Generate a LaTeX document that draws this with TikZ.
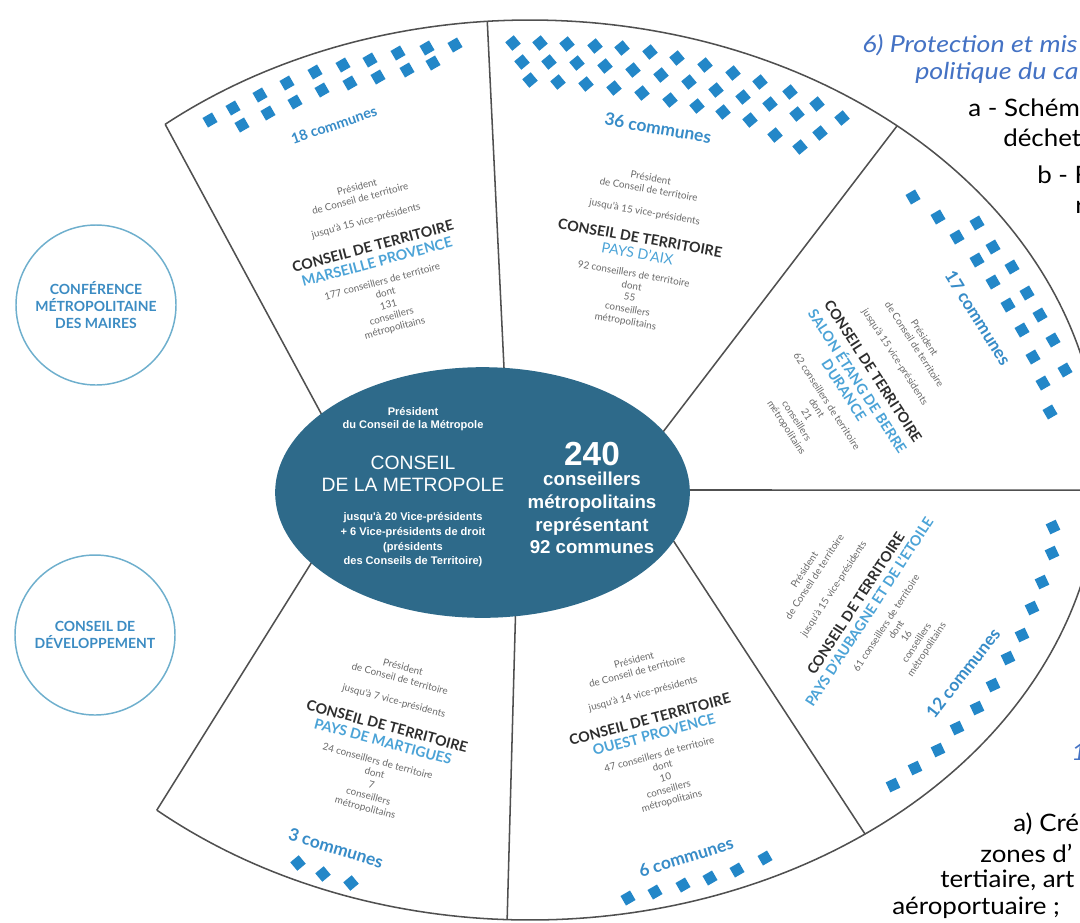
\documentclass[tikz,border=0pt]{standalone}
\usepackage{fontspec}
\setmainfont{Lato}
\newfontfamily\arialf{Liberation Sans}
\newfontfamily\ovblackf[FakeStretch=1.08]{Lato}
\newfontfamily\ovbluef[FakeStretch=1.15]{Lato}
\usetikzlibrary{shapes.geometric}
\definecolor{ellc}{RGB}{46,106,138}
\definecolor{dotc}{RGB}{35,135,200}
\definecolor{namec}{RGB}{75,163,215}
\definecolor{commc}{RGB}{55,140,200}
\definecolor{grayt}{RGB}{105,105,105}
\definecolor{darkt}{RGB}{45,45,45}
\definecolor{linec}{RGB}{80,80,80}
\definecolor{circc}{RGB}{110,175,205}
\definecolor{circt}{RGB}{60,140,195}
\definecolor{overb}{RGB}{68,114,196}
\newcommand\cdtline{{\color{darkt}\bfseries\fontsize{10.7}{12}\selectfont CONSEIL DE TERRITOIRE}}
\newcommand\nmline[1]{{\color{namec}\bfseries\fontsize{10.7}{12}\selectfont #1}}
\newcommand\nmlight[1]{{\color{namec}\fontsize{10.7}{12}\selectfont #1}}
\newcommand\terrtext[4]{Président\\de Conseil de territoire\\[8pt]jusqu'à #1 vice-présidents\\[11pt]\cdtline\\[3pt]#2\\[5pt]#3 conseillers de territoire\\dont\\#4\\conseillers\\métropolitains}
\begin{document}
\begin{tikzpicture}[x=0.75pt,y=-0.75pt,
  sectorline/.style={draw=linec, line width=1.15pt},
  block/.style={align=center, inner sep=0pt, text=grayt, font=\fontsize{7.4}{9}\selectfont},
  comm/.style={text=commc, inner sep=0pt, font=\bfseries\fontsize{13}{15}\selectfont},
  dotsq/.style={fill=dotc},
  bubble/.style={circle, draw=circc, line width=1.1pt, minimum size=120pt, inner sep=0pt, align=center, text=circt, font=\bfseries\fontsize{10.5}{12.5}\selectfont},
  ovblack/.style={anchor=west, inner sep=0pt, text=black, font=\ovblackf\fontsize{18}{22}\selectfont},
  ovblue/.style={anchor=west, inner sep=0pt, text=overb, font=\ovbluef\itshape\fontsize{17.5}{20}\selectfont},
  elltxt/.style={text=white, align=center, inner sep=0pt}
]
\useasboundingbox (0,0) rectangle (1080,922);
\fill[white] (0,0) rectangle (1080,922);

% outer arc points
\coordinate (o1) at ({530+570*cos(-129.8)},{470+450*sin(-129.8)});
\coordinate (o2) at ({530+570*cos(-94.3)},{470+450*sin(-94.3)});
\coordinate (o3) at ({530+570*cos(-49.9)},{470+450*sin(-49.9)});
\coordinate (o4) at ({530+570*cos(2.55)},{470+450*sin(2.55)});
\coordinate (o5) at ({530+570*cos(54)},{470+450*sin(54)});
\coordinate (o6) at ({530+570*cos(92.3)},{470+450*sin(92.3)});
\coordinate (o7) at ({530+570*cos(130.9)},{470+450*sin(130.9)});
% inner ends (hidden by ellipse)
\coordinate (i1) at (330,430);
\coordinate (i2) at (507,430);
\coordinate (i3) at (640,462);
\coordinate (i4) at (660,490);
\coordinate (i5) at (650,505);
\coordinate (i6) at (517,560);
\coordinate (i7) at (330,533);

\draw[sectorline] plot[domain=-129.8:130.9, samples=240] ({530+570*cos(\x)},{470+450*sin(\x)});
\foreach \k in {1,...,7} \draw[sectorline] (o\k) -- (i\k);

% central ellipse
\node[ellipse, fill=ellc, minimum width=311pt, minimum height=188pt, inner sep=0pt] (met) at (482.5,492.5) {};
\node[elltxt, font=\arialf\bfseries\fontsize{8.3}{10}\selectfont] (mpres) at (413,419) {Président\\du Conseil de la Métropole};
\node[elltxt, font=\arialf\fontsize{14.5}{16.5}\selectfont] (mcons) at (413,474) {CONSEIL\\DE LA METROPOLE};
\node[elltxt, font=\arialf\bfseries\fontsize{8.3}{11}\selectfont] (mvp) at (413,540) {jusqu'à 20 Vice-présidents\\+ 6 Vice-présidents de droit\\(présidents\\des Conseils de Territoire)};
\node[elltxt, font=\arialf\bfseries\fontsize{25}{28}\selectfont] (m240) at (592,454) {240};
\node[elltxt, font=\arialf\bfseries\fontsize{14}{17}\selectfont] (mcount) at (592,513) {conseillers\\métropolitains\\représentant\\92 communes};

% left bubbles
\node[bubble] (maires) at (96,305) {CONFÉRENCE\\MÉTROPOLITAINE\\DES MAIRES};
\node[bubble] (dev) at (95,635) {CONSEIL DE\\DÉVELOPPEMENT};

% sector texts
\node[block, rotate=15] (tmp) at (376,258) {\terrtext{15}{\nmline{MARSEILLE PROVENCE}}{177}{131}};
\node[block, rotate=-10] (tpa) at (638,250) {\terrtext{15}{\nmlight{PAYS D'AIX}}{92}{55}};
\node[block, rotate=-57] (tse) at (855,383) {\terrtext{15}{\nmline{SALON ÉTANG DE BERRE}\\[3pt]\nmline{DURANCE}}{62}{21}};
\node[block, rotate=57] (tau) at (866,610) {\terrtext{15}{\nmline{PAYS D'AUBAGNE ET DE L'ETOILE}}{61}{16}};
\node[block, rotate=15] (top) at (653,731) {\terrtext{14}{\nmline{OUEST PROVENCE}}{47}{10}};
\node[block, rotate=-15] (tma) at (384,738) {\terrtext{7}{\nmline{PAYS DE MARTIGUES}}{24}{7}};

% communes labels
\node[comm, rotate=19, font=\bfseries\fontsize{10.8}{12}\selectfont] (c18) at (334,125) {18 communes};
\node[comm, rotate=-10] (c36) at (658,128) {36 communes};
\node[comm, rotate=-58] (c17) at (978,318) {17 communes};
\node[comm, rotate=52] (c12) at (963,673) {12 communes};
\node[comm, rotate=17] (c6) at (686,857) {6 communes};
\node[comm, rotate=-17] (c3) at (336,848) {3 communes};

% commune dots
\foreach \x/\y in {210/120,233/108,260/95,287/83,315/72,343/65,370/60,398/53,427/48,455/45,
  242/125,268/113,295/102,322/90,350/83,378/77,407/70,433/63}
  \fill[dotsq, shift={(\x,\y)}, rotate=30] (-5.5,-5.5) rectangle (5.5,5.5);
\foreach \x/\y in {513/43,540/43,567/44,595/46,622/48,650/52,677/58,705/65,733/73,760/82,790/92,817/104,842/118,
  522/62,549/62,577/63,605/66,633/70,661/75,689/82,716/90,743/97,770/104,797/114,820/133,
  530/80,558/82,586/84,614/88,642/93,670/100,697/106,723/112,750/120,775/135,800/147}
  \fill[dotsq, shift={(\x,\y)}, rotate=40] (-5.5,-5.5) rectangle (5.5,5.5);
\foreach \x/\y in {913/197,938/217,957/237,977/223,993/247,977/260,1012/267,993/282,1027/293,1008/305,1040/315,1022/330,1053/340,1033/357,1065/370,1043/383,1050/412}
  \fill[dotsq, shift={(\x,\y)}, rotate=30] (-5.5,-5.5) rectangle (5.5,5.5);
\foreach \x/\y in {1053/527,1052/553,1042/582,1032/608,1022/635,1008/658,993/685,977/708,957/728,938/750,915/768,893/785}
  \fill[dotsq, shift={(\x,\y)}, rotate=25] (-5.5,-5.5) rectangle (5.5,5.5);
\foreach \x/\y in {628/898,655/892,683/885,710/878,737/870,765/858}
  \fill[dotsq, shift={(\x,\y)}, rotate=30] (-5.5,-5.5) rectangle (5.5,5.5);
\foreach \x/\y in {298/863,323/874,351/883}
  \fill[dotsq, shift={(\x,\y)}, rotate=40] (-5.5,-5.5) rectangle (5.5,5.5);

% overlay text cut at the right edge
\node[ovblue] (ov1) at (862,45) {6) Protection et mis};
\node[ovblue] (ov2) at (915,73) {politique du ca};
\node[ovblack] (ov3) at (968,108) {a - Schém};
\node[ovblack] (ov4) at (1003,138) {déchet};
\node[ovblack] (ov5) at (1037,175) {b - F};
\node[ovblack] (ov6) at (1075,207) {r};
\node[ovblue] (ov7) at (1071,752) {1};
\node[ovblack] (ov8) at (1013,824) {a) Cré};
\node[ovblack] (ov9) at (980,853) {zones d’};
\node[ovblack] (ov10) at (940,880) {tertiaire, art};
\node[ovblack] (ov11) at (892,908) {aéroportuaire ;};
\end{tikzpicture}
\end{document}
